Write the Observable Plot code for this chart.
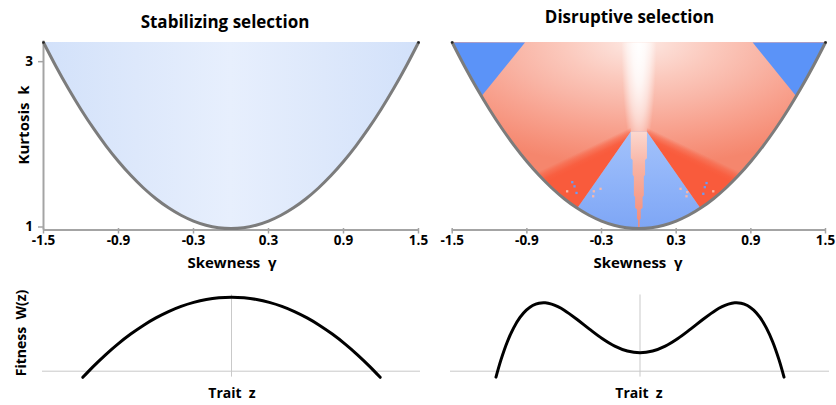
<!DOCTYPE html>
<html><head><meta charset="utf-8">
<script src="https://cdn.jsdelivr.net/npm/d3@7"></script>
<script src="https://cdn.jsdelivr.net/npm/@observablehq/plot@0.6"></script>
<style>
body{margin:0;background:#fff;font-family:"Open Sans",sans-serif;}
#wrap{position:relative;width:836px;height:405px;overflow:hidden;background:#fff;}
.p{position:absolute;}
.t{position:absolute;transform:translate(-50%,-50%);white-space:pre;font-weight:700;font-size:15px;line-height:1;color:#000;}
.rot{transform:translate(-50%,-50%) rotate(-90deg);}
</style></head><body>
<div id="wrap">
  <div class="t" style="left:225px;top:20.7px;font-size:17px">Stabilizing selection</div>
  <div class="t" style="left:629.5px;top:16.2px;font-size:17px">Disruptive selection</div>
  <div class="t" style="left:232px;top:261.5px">Skewness  γ</div>
  <div class="t" style="left:638px;top:261.5px">Skewness  γ</div>
  <div class="t rot" style="left:23px;top:125px">Kurtosis  k</div>
  <div class="t rot" style="left:21px;top:333px;font-size:14px">Fitness  W(z)</div>
  <div class="t" style="left:232px;top:393px;font-size:14px">Trait  z</div>
  <div class="t" style="left:639px;top:393px;font-size:14px">Trait  z</div>
</div>
<script>
// ---------- data ----------
const skewTicks = [-1.5, -0.9, -0.3, 0.3, 0.9, 1.5];
const kurtTicks = [1, 3];
const kTop = 3.25;
// boundary of the feasible region (skewness, kurtosis)
const boundGamma = [-1.5,-1.4,-1.3,-1.2,-1.1,-1.0,-0.9,-0.8,-0.7,-0.6,-0.5,-0.4,-0.3,-0.2,-0.1,0,0.1,0.2,0.3,0.4,0.5,0.6,0.7,0.8,0.9,1.0,1.1,1.2,1.3,1.4,1.5];
const boundKurt  = [3.25,2.96,2.69,2.44,2.21,2.00,1.81,1.64,1.49,1.36,1.25,1.16,1.09,1.04,1.01,1.00,1.01,1.04,1.09,1.16,1.25,1.36,1.49,1.64,1.81,2.00,2.21,2.44,2.69,2.96,3.25];
const boundEnds = [[-1.5, 3.25], [1.5, 3.25]];
// disruptive-selection regions (skewness, kurtosis vertices)
const cornerLeft  = [[-1.5,3.25],[-0.915,3.25],[-1.265,2.60],[-1.3,2.69],[-1.4,2.96]];
const cornerRight = [[1.5,3.25],[0.915,3.25],[1.265,2.60],[1.3,2.69],[1.4,2.96]];
const wedgeLeft  = [[-0.065,2.17],[-0.495,1.245],[-0.6,1.36],[-0.7,1.49],[-0.8,1.64],[-0.9,1.81],[-0.065,2.24]];
const wedgeRight = [[0.065,2.17],[0.495,1.245],[0.6,1.36],[0.7,1.49],[0.8,1.64],[0.9,1.81],[0.065,2.24]];
const blueTriangle = [[-0.065,2.17],[-0.495,1.245],[-0.4,1.16],[-0.3,1.09],[-0.2,1.04],[-0.1,1.01],[0,1.0],[0.1,1.01],[0.2,1.04],[0.3,1.09],[0.4,1.16],[0.495,1.245],[0.065,2.17]];
const centreStripe = [[-0.065,2.17],[-0.065,1.85],[-0.05,1.83],[-0.05,1.65],[-0.04,1.63],[-0.04,1.40],[-0.03,1.38],[-0.03,1.25],[-0.015,1.23],[-0.015,1.12],[-0.006,1.10],[-0.006,1.0],
                      [0.006,1.0],[0.006,1.10],[0.015,1.12],[0.015,1.23],[0.03,1.25],[0.03,1.38],[0.04,1.40],[0.04,1.63],[0.05,1.65],[0.05,1.83],[0.065,1.85],[0.065,2.17]];
const centreGlow = [[-0.2,3.25],[0.2,3.25],[0.2,2.17],[-0.2,2.17]];
const speckBlue = [[-0.535,1.56],[-0.517,1.51],[-0.501,1.43],[0.544,1.55],[0.53,1.50],[0.518,1.42]];
const speckPink = [[-0.576,1.45],[-0.362,1.45],[-0.308,1.48],[-0.367,1.39],[0.598,1.45],[0.335,1.48],[0.383,1.39],[0.389,1.44]];
// fitness functions
const traitStab = [-1.18,-1.1,-1.0,-0.9,-0.8,-0.7,-0.6,-0.5,-0.4,-0.3,-0.2,-0.1,0,0.1,0.2,0.3,0.4,0.5,0.6,0.7,0.8,0.9,1.0,1.1,1.18];
const fitStab   = [-0.083,0.059,0.222,0.370,0.502,0.619,0.720,0.806,0.876,0.930,0.969,0.992,1.0,0.992,0.969,0.930,0.876,0.806,0.720,0.619,0.502,0.370,0.222,0.059,-0.083];
const traitDisr = [-1.14,-1.1,-1.05,-1.0,-0.95,-0.9,-0.85,-0.8,-0.75,-0.7,-0.65,-0.6,-0.5,-0.4,-0.3,-0.2,-0.1,0,0.1,0.2,0.3,0.4,0.5,0.6,0.65,0.7,0.75,0.8,0.85,0.9,0.95,1.0,1.05,1.1,1.14];
const fitDisr   = [-0.080,0.156,0.398,0.586,0.726,0.825,0.888,0.919,0.924,0.907,0.872,0.825,0.703,0.569,0.442,0.339,0.273,0.250,0.273,0.339,0.442,0.569,0.703,0.825,0.872,0.907,0.924,0.919,0.888,0.825,0.726,0.586,0.398,0.156,-0.080];

// ---------- helpers ----------
const bound = boundGamma.map((g, i) => ({g, k: boundKurt[i]}));
const stab = traitStab.map((z, i) => ({z, w: fitStab[i]}));
const disr = traitDisr.map((z, i) => ({z, w: fitDisr[i]}));
const gx = d => d[0], ky = d => d[1];
const axisGray = "#a4a4a4", curveGray = "#7c7c7c";
const baseStyle = {background: "transparent", overflow: "visible", fontFamily: "'Open Sans', sans-serif", fontWeight: "bold", fontSize: "13px", color: "#000"};
const NS = "http://www.w3.org/2000/svg";
function el(tag, attrs, kids = []) { const e = document.createElementNS(NS, tag); for (const [k, v] of Object.entries(attrs)) e.setAttribute(k, v); kids.forEach(c => e.appendChild(c)); return e; }
function stops(list) { return list.map(([o, c, op = 1]) => el("stop", {offset: o, "stop-color": c, "stop-opacity": op})); }
function addDefs(svg, grads) { svg.insertBefore(el("defs", {}, grads), svg.firstChild); }
const wrap = document.getElementById("wrap");
function place(node, left, top) { const d = document.createElement("div"); d.className = "p"; d.style.left = left + "px"; d.style.top = top + "px"; d.appendChild(node); wrap.appendChild(d); }
const xAxisOpts = {tickSize: 5.5, tickPadding: 1, stroke: axisGray, strokeWidth: 1.5, fill: "#000", fontSize: 13.5, fontWeight: "bold", tickFormat: d => String(d), label: null};

// ---------- top-left: stabilizing ----------
const tl = Plot.plot({
  width: 430, height: 272, marginLeft: 43, marginRight: 12, marginTop: 42, marginBottom: 44,
  x: {domain: [-1.5, 1.5], axis: null}, y: {domain: [1, kTop], axis: null},
  style: baseStyle,
  marks: [
    Plot.areaY(bound, {x: "g", y1: "k", y2: kTop, fill: "url(#stabG)", curve: "catmull-rom"}),
    Plot.ruleX([-1.5], {stroke: axisGray, strokeWidth: 2, insetTop: -1.5, insetBottom: -1.5}),
    Plot.ruleY([1], {stroke: axisGray, strokeWidth: 2, dy: 1.5}),
    Plot.axisX(skewTicks, xAxisOpts),
    Plot.axisY(kurtTicks, {tickSize: 5, tickPadding: 5.5, stroke: axisGray, strokeWidth: 1.5, fill: "#000", fontSize: 13.5, fontWeight: "bold", tickFormat: d => String(d), label: null, dy: -1.5}),
    Plot.line(bound, {x: "g", y: "k", stroke: curveGray, strokeWidth: 3, curve: "catmull-rom"}),
    Plot.dot(boundEnds, {x: gx, y: ky, r: 1.3, fill: "#222"})
  ]
});
{
  const sx = tl.scale("x");
  addDefs(tl, [el("linearGradient", {id: "stabG", gradientUnits: "userSpaceOnUse", x1: sx.apply(-1.5), x2: sx.apply(1.5), y1: 0, y2: 0},
    stops([[0, "#d2e1fa"], [0.25, "#dde8fb"], [0.5, "#e7effd"], [0.75, "#dde8fb"], [1, "#d2e1fa"]]))]);
}
place(tl, 0, 0);

// ---------- top-right: disruptive ----------
const tr = Plot.plot({
  width: 426, height: 272, marginLeft: 41.7, marginRight: 11, marginTop: 42, marginBottom: 44,
  x: {domain: [-1.5, 1.5], axis: null}, y: {domain: [1, kTop], axis: null},
  style: baseStyle,
  marks: [
    Plot.areaY(bound, {x: "g", y1: "k", y2: kTop, fill: "url(#redR)", curve: "catmull-rom"}),
    Plot.line(centreGlow, {x: gx, y: ky, fill: "url(#glowG)", stroke: "none"}),
    Plot.line(wedgeLeft, {x: gx, y: ky, fill: "url(#wedgeL)", stroke: "none"}),
    Plot.line(wedgeRight, {x: gx, y: ky, fill: "url(#wedgeR)", stroke: "none"}),
    Plot.line(blueTriangle, {x: gx, y: ky, fill: "url(#triG)", stroke: "none"}),
    Plot.line(centreStripe, {x: gx, y: ky, fill: "url(#stripeG)", stroke: "none"}),
    Plot.line(cornerLeft, {x: gx, y: ky, fill: "#5b93f8", stroke: "none"}),
    Plot.line(cornerRight, {x: gx, y: ky, fill: "#5b93f8", stroke: "none"}),
    Plot.dot(speckBlue, {x: gx, y: ky, r: 1.3, symbol: "square", fill: "#6b9bf6"}),
    Plot.dot(speckPink, {x: gx, y: ky, r: 1.3, symbol: "square", fill: "#f8b8aa"}),
    Plot.ruleY([1], {stroke: axisGray, strokeWidth: 2, dy: 1.5}),
    Plot.axisX(skewTicks, xAxisOpts),
    Plot.line(bound, {x: "g", y: "k", stroke: curveGray, strokeWidth: 3, curve: "catmull-rom"}),
    Plot.dot(boundEnds, {x: gx, y: ky, r: 1.3, fill: "#222"})
  ]
});
{
  const sx = tr.scale("x"), sy = tr.scale("y");
  const X = v => sx.apply(v), Y = v => sy.apply(v);
  const rx = X(2.0) - X(0), ry = Y(1.75) - Y(kTop);
  const gxr = X(0.14) - X(0), gyr = Y(kTop - 1.45) - Y(kTop);
  function wedgeGrad(id, A, Pt, B) {
    const ax = X(A[0]), ay = Y(A[1]), qx = X(Pt[0]), qy = Y(Pt[1]), bx = X(B[0]), by = Y(B[1]);
    let dx = qx - ax, dy = qy - ay; const L = Math.hypot(dx, dy); dx /= L; dy /= L;
    let nx = -dy, ny = dx;
    if ((bx - ax) * nx + (by - ay) * ny < 0) { nx = -nx; ny = -ny; }
    return el("linearGradient", {id, gradientUnits: "userSpaceOnUse", x1: ax - 4 * nx, y1: ay - 4 * ny, x2: ax + 9 * nx, y2: ay + 9 * ny},
      stops([[0, "#f95b3c", 0], [0.31, "#f95b3c", 0.5], [0.7, "#f95b3c", 0.9], [1, "#f95b3c", 1]]));
  }
  addDefs(tr, [
    el("radialGradient", {id: "redR", gradientUnits: "userSpaceOnUse", cx: 0, cy: 0, r: 1, gradientTransform: `translate(${X(0)},${Y(kTop)}) scale(${rx},${ry})`},
      stops([[0, "#fdeae5"], [0.12, "#fcdcd4"], [0.3, "#fbc9bd"], [0.5, "#f9b6a7"], [0.7, "#f8a28f"], [0.9, "#f68f78"], [1, "#f5866d"]])),
    el("radialGradient", {id: "glowG", gradientUnits: "userSpaceOnUse", cx: 0, cy: 0, r: 1, gradientTransform: `translate(${X(0)},${Y(kTop)}) scale(${gxr},${gyr})`},
      stops([[0, "#ffffff", 1], [0.35, "#ffffff", 0.85], [0.65, "#ffffff", 0.55], [0.85, "#ffffff", 0.25], [1, "#ffffff", 0]])),
    el("linearGradient", {id: "stripeG", gradientUnits: "userSpaceOnUse", x1: 0, x2: 0, y1: Y(2.17), y2: Y(1.0)},
      stops([[0, "#fcd8cf"], [0.35, "#f8b4a5"], [1, "#f48a76"]])),
    el("linearGradient", {id: "triG", gradientUnits: "userSpaceOnUse", x1: 0, x2: 0, y1: Y(2.17), y2: Y(1.0)},
      stops([[0, "#a3c2fa"], [0.5, "#90b4f9"], [1, "#7ea6f5"]])),
    wedgeGrad("wedgeL", [-0.065, 2.17], [-0.8, 1.64], [-0.495, 1.245]),
    wedgeGrad("wedgeR", [0.065, 2.17], [0.8, 1.64], [0.495, 1.245])
  ]);
}
place(tr, 410, 0);

// ---------- bottom: fitness functions ----------
function fitnessPlot(data, marginLeft, width, marginRight) {
  return Plot.plot({
    width, height: 105, marginLeft, marginRight, marginTop: 9.3, marginBottom: 6.9,
    x: {domain: [-1.5, 1.5], axis: null}, y: {domain: [-0.1, 1.1], axis: null},
    style: baseStyle,
    marks: [
      Plot.ruleY([0], {stroke: "#c9c9c9", strokeWidth: 1}),
      Plot.ruleX([0], {y1: 1.03, y2: -0.08, stroke: "#c9c9c9", strokeWidth: 1}),
      Plot.line(data, {x: "z", y: "w", stroke: "#000", strokeWidth: 3, curve: "catmull-rom"})
    ]
  });
}
place(fitnessPlot(stab, 42, 430, 10), 0, 280);
place(fitnessPlot(disr, 40, 426, 7), 410, 280);
</script>
</body></html>
